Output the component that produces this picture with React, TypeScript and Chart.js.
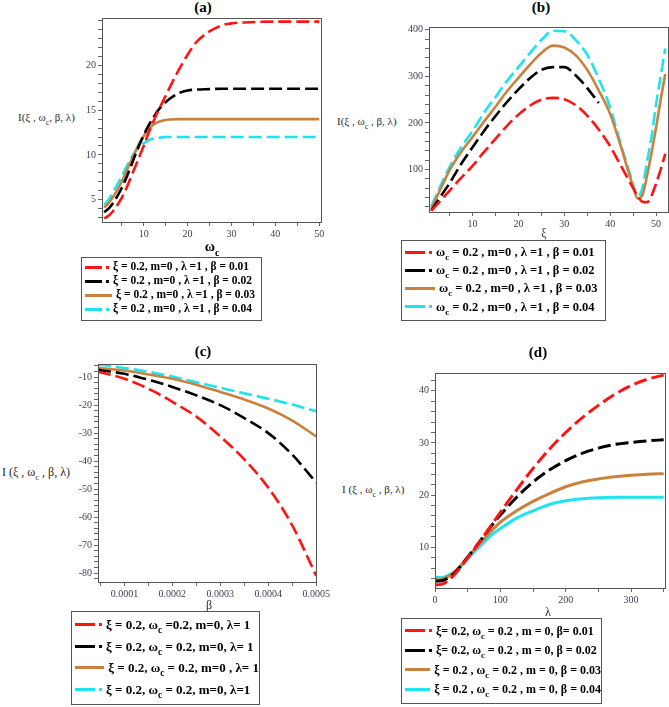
import { useEffect, useRef } from "react";
import Chart from "chart.js/auto";

// ---- panel (a): I against ωc ----
const aX = [1, 2, 3, 4, 5, 6, 7, 8, 9, 10, 11, 12, 13, 14, 15, 16, 18, 20, 22, 25, 28, 30, 35, 40, 45, 50];
const aRed = [2.9, 3.2, 3.7, 4.4, 5.2, 6.2, 7.4, 8.6, 9.8, 11.0, 12.3, 13.5, 14.6, 15.6, 16.6, 17.6, 19.5, 21.2, 22.6, 23.8, 24.5, 24.7, 24.85, 24.9, 24.9, 24.9];
const aBlack = [3.6, 4.0, 4.6, 5.4, 6.3, 7.4, 8.6, 9.9, 11.1, 12.2, 13.2, 14.0, 14.8, 15.4, 15.9, 16.3, 16.9, 17.2, 17.3, 17.35, 17.4, 17.4, 17.4, 17.4, 17.4, 17.4];
const aOrange = [4.1, 4.6, 5.3, 6.1, 7.0, 8.1, 9.2, 10.3, 11.3, 12.1, 12.8, 13.3, 13.6, 13.8, 13.9, 13.95, 14.0, 14.0, 14.0, 14.0, 14.0, 14.0, 14.0, 14.0, 14.0, 14.0];
const aCyan = [4.4, 5.0, 5.8, 6.7, 7.6, 8.6, 9.5, 10.3, 10.9, 11.3, 11.6, 11.8, 11.9, 11.95, 12.0, 12.0, 12.0, 12.0, 12.0, 12.0, 12.0, 12.0, 12.0, 12.0, 12.0, 12.0];
const aXTicks = [10, 20, 30, 40, 50];
const aYTicks = [5, 10, 15, 20];
const aLegend = [
	"ξ = 0.2, m=0 , λ =1 , β = 0.01",
	"ξ = 0.2 , m=0 , λ =1 , β = 0.02",
	"ξ = 0.2 , m=0 , λ =1 , β = 0.03",
	"ξ = 0.2 , m=0 , λ =1 , β = 0.04",
];

// ---- panel (b): I against ξ ----
const bX = [1, 3, 5, 7.5, 10, 12.5, 15, 17.5, 20, 22.5, 25, 27.5, 30, 32.5, 35, 37.5, 40, 42, 44, 45, 46, 47, 48, 49, 50, 51, 52];
const bRed = [12, 33, 55, 82, 108, 138, 166, 194, 218, 237, 250, 254, 251, 238, 216, 186, 150, 114, 78, 60, 43, 31, 30, 44, 70, 100, 134];
const bBlack = [12, 42, 71, 112, 148, 183, 215, 245, 272, 296, 314, 320, 320, 302, 275, 243];
const bOrange = [16, 58, 99, 138, 170, 203, 235, 268, 297, 325, 350, 366, 362, 345, 314, 270, 219, 160, 95, 63, 38, 45, 85, 135, 190, 250, 305];
const bCyan = [21, 65, 106, 148, 183, 222, 256, 290, 320, 350, 378, 398, 397, 378, 346, 295, 233, 165, 100, 68, 41, 60, 115, 170, 240, 300, 360];
const bXTicks = [10, 20, 30, 40, 50];
const bYTicks = [100, 200, 300, 400];
const bLegend = [
	"ωc = 0.2 , m=0 , λ =1 , β = 0.01",
	"ωc = 0.2 , m=0 , λ =1 , β = 0.02",
	"ωc = 0.2 , m=0 , λ =1 , β = 0.03",
	"ωc = 0.2 , m=0 , λ =1 , β = 0.04",
];

// ---- panel (c): I against β ----
const cX = [0.000045, 0.00007, 0.0001, 0.00013, 0.00016, 0.0002, 0.00025, 0.0003, 0.00035, 0.0004, 0.00045, 0.0005];
const cRed = [-8.1, -9.1, -10.6, -12.6, -15.0, -18.8, -24.1, -31.2, -39.4, -49.5, -63, -81];
const cBlack = [-7.4, -8.0, -8.8, -10.0, -11.4, -13.5, -16.5, -20.0, -24.6, -30.0, -37.7, -47.7];
const cOrange = [-6.7, -7.1, -7.6, -8.4, -9.3, -10.6, -12.7, -15.3, -18.0, -21.2, -25.5, -31.2];
const cCyan = [-5.5, -6.0, -6.7, -7.5, -8.4, -9.8, -11.8, -13.8, -15.8, -17.7, -19.8, -22.2];
const cXTicks = [0.0001, 0.0002, 0.0003, 0.0004, 0.0005];
const cYTicks = [-10, -20, -30, -40, -50, -60, -70, -80];
const cLegend = [
	"ξ = 0.2,  ωc =0.2,  m=0, λ= 1",
	"ξ = 0.2, ωc = 0.2,  m=0, λ= 1",
	"ξ = 0.2, ωc = 0.2, m=0 , λ= 1",
	"ξ = 0.2, ωc = 0.2, m=0, λ=1",
];

// ---- panel (d): I against λ ----
const dX = [0, 10, 20, 30, 40, 50, 60, 75, 90, 100, 125, 150, 175, 200, 225, 250, 275, 300, 325, 350];
const dRed = [2.8, 2.9, 3.6, 4.8, 6.3, 8.0, 9.6, 12.2, 14.9, 16.7, 21.0, 25.1, 28.8, 32.0, 34.8, 37.2, 39.3, 41.0, 42.2, 43.0];
const dBlack = [3.5, 3.6, 4.1, 5.1, 6.5, 8.1, 9.7, 12.2, 14.7, 16.2, 19.6, 22.5, 24.8, 26.6, 28.0, 29.0, 29.7, 30.1, 30.4, 30.6];
const dOrange = [3.8, 3.9, 4.4, 5.3, 6.6, 8.1, 9.5, 11.6, 13.6, 14.8, 17.0, 18.8, 20.3, 21.6, 22.5, 23.1, 23.5, 23.8, 24.0, 24.1];
const dCyan = [4.2, 4.2, 4.6, 5.3, 6.4, 7.8, 9.1, 11.0, 12.7, 13.6, 15.6, 17.0, 18.2, 18.9, 19.3, 19.5, 19.6, 19.6, 19.6, 19.6];
const dXTicks = [0, 100, 200, 300];
const dYTicks = [10, 20, 30, 40];
const dLegend = [
	"ξ= 0.2, ωc = 0.2 , m = 0, β= 0.01",
	"ξ= 0.2, ωc = 0.2 , m = 0, β = 0.02",
	"ξ = 0.2 , ωc = 0.2 , m = 0, β = 0.03",
	"ξ = 0.2 , ωc = 0.2 , m = 0, β = 0.04",
];

const COLORS = ["#ff1414", "#000000", "#c8823e", "#1de4ee"];
const DASH = [13, 5];
const SERIF = "'Liberation Serif', 'Times New Roman', serif";

type Area = { left: number; top: number; right: number; bottom: number };
type Axis = { min: number; max: number; minor: number; major: number[]; digits?: number };

const PAD_L = 40;
const PAD_T = 6;
const PAD_R = 14;
const PAD_B = 22;

// draw the box round the plot area, like Maple does
const framePlugin = {
	id: "frame",
	afterDraw(chart: Chart) {
		const { ctx, chartArea: a } = chart;
		ctx.save();
		ctx.strokeStyle = "#555";
		ctx.lineWidth = 1;
		ctx.strokeRect(Math.round(a.left) + 0.5, Math.round(a.top) + 0.5, Math.round(a.right - a.left), Math.round(a.bottom - a.top));
		ctx.restore();
	},
};

const scaleFor = (ax: Axis, isX: boolean) => ({
	type: "linear" as const,
	min: ax.min,
	max: ax.max,
	afterBuildTicks: (scale: any) => {
		const ticks = [];
		const first = Math.ceil(ax.min / ax.minor - 1e-9);
		const last = Math.floor(ax.max / ax.minor + 1e-9);
		for (let k = first; k <= last; k++) ticks.push({ value: +(k * ax.minor).toPrecision(10) });
		scale.ticks = ticks;
	},
	afterFit: (scale: any) => {
		if (isX) scale.height = PAD_B;
		else scale.width = PAD_L;
	},
	grid: { drawOnChartArea: false, drawTicks: true, tickLength: 4, color: "#666" },
	border: { display: true, color: "#555" },
	ticks: {
		autoSkip: false,
		maxRotation: 0,
		padding: 2,
		color: "#3c3c4c",
		font: { family: SERIF, size: 10 },
		callback: (v: any) => {
			const val = Number(v);
			const isMajor = ax.major.some((m) => Math.abs(m - val) < ax.minor * 1e-3);
			if (!isMajor) return "";
			return ax.digits ? val.toFixed(ax.digits) : String(Math.round(val));
		},
	},
});

const Plot = ({ area, xs, series, dashes, width, xAxis, yAxis }: {
	area: Area; xs: number[]; series: number[][]; dashes: number[][]; width: number; xAxis: Axis; yAxis: Axis;
}) => {
	const canvasRef = useRef<HTMLCanvasElement | null>(null);
	const w = area.right - area.left + PAD_L + PAD_R;
	const h = area.bottom - area.top + PAD_T + PAD_B;

	useEffect(() => {
		if (!canvasRef.current) return;
		const chart = new Chart(canvasRef.current, {
			type: "line",
			data: {
				datasets: series.map((ys, i) => ({
					data: ys.map((y, j) => ({ x: xs[j], y })),
					borderColor: COLORS[i],
					borderWidth: width,
					borderDash: dashes[i],
					pointRadius: 0,
					fill: false,
					cubicInterpolationMode: "monotone" as const,
				})),
			},
			options: {
				responsive: false,
				animation: false,
				layout: { padding: { left: 0, top: PAD_T, right: PAD_R, bottom: 0 } },
				plugins: { legend: { display: false }, tooltip: { enabled: false } },
				scales: { x: scaleFor(xAxis, true), y: scaleFor(yAxis, false) },
			},
			plugins: [framePlugin],
		});
		return () => chart.destroy();
	}, []);

	return (
		<canvas
			ref={canvasRef}
			width={w}
			height={h}
			style={{ position: "absolute", left: area.left - PAD_L, top: area.top - PAD_T, width: w, height: h }}
		/>
	);
};

// ω with subscript c
const rich = (s: string) =>
	s.split("ωc").flatMap((part, i) =>
		i === 0
			? [part]
			: [
					<span key={i}>
						ω<span style={{ fontSize: "0.72em", position: "relative", top: "0.45em" }}>c</span>
					</span>,
					part,
				],
	);

const Legend = ({ left, top, width, height, labels, fontSize, lineLen, solid }: {
	left: number; top: number; width: number; height: number; labels: string[]; fontSize: number; lineLen: number; solid: boolean[];
}) => (
	<div
		style={{
			position: "absolute", left, top, width, height, boxSizing: "border-box",
			border: "1px solid #555", display: "flex", flexDirection: "column", justifyContent: "space-around",
			padding: "2px 0 4px 3px", fontFamily: SERIF, fontWeight: "bold", fontSize, color: "#000", whiteSpace: "nowrap",
		}}
	>
		{labels.map((lab, i) => (
			<div key={i} style={{ display: "flex", alignItems: "center", lineHeight: 1 }}>
				<span style={{ display: "inline-block", width: solid[i] ? lineLen + 10 : lineLen, height: 3, background: COLORS[i] }} />
				{solid[i] ? null : (
					<span style={{ display: "inline-block", width: 3, height: 3, marginLeft: 4, background: COLORS[i] }} />
				)}
				<span style={{ marginLeft: 4 }}>{rich(lab)}</span>
			</div>
		))}
	</div>
);

const Text = ({ x, y, children, size, bold, center }: { x: number; y: number; children: any; size: number; bold?: boolean; center?: boolean }) => (
	<div
		style={{
			position: "absolute", left: x, top: y, transform: center ? "translateX(-50%)" : undefined,
			fontFamily: SERIF, fontSize: size, fontWeight: bold ? "bold" : "normal", color: bold ? "#000" : "#2a2a2a",
			whiteSpace: "nowrap", lineHeight: 1,
		}}
	>
		{children}
	</div>
);

const dashed = [DASH, DASH, [], DASH];

export default function App() {
	return (
		<div style={{ position: "absolute", left: 0, top: 0, width: 669, height: 707, background: "#fff", overflow: "hidden" }}>
			{/* (a) */}
			<Text x={203} y={0} size={15} bold center>(a)</Text>
			<Text x={18} y={112} size={11}>{rich("I(ξ , ωc, β, λ)")}</Text>
			<Plot
				area={{ left: 102, top: 16, right: 321, bottom: 222 }}
				xs={aX}
				series={[aRed, aBlack, aOrange, aCyan]}
				dashes={dashed}
				width={2.6}
				xAxis={{ min: 0.5, max: 50.4, minor: 5, major: aXTicks }}
				yAxis={{ min: 2.5, max: 25.3, minor: 1, major: aYTicks }}
			/>
			<Text x={212} y={240} size={14} bold center>{rich("ωc")}</Text>
			<Legend left={81} top={257} width={181} height={64} labels={aLegend} fontSize={11.5} lineLen={17} solid={[false, false, true, false]} />

			{/* (b) */}
			<Text x={541} y={0} size={15} bold center>(b)</Text>
			<Text x={337} y={116} size={11}>{rich("I(ξ , ωc , β, λ)")}</Text>
			<Plot
				area={{ left: 429, top: 25, right: 668, bottom: 212 }}
				xs={bX}
				series={[bRed, bBlack, bOrange, bCyan]}
				dashes={dashed}
				width={2.6}
				xAxis={{ min: 0.5, max: 52.6, minor: 5, major: bXTicks }}
				yAxis={{ min: 9, max: 406, minor: 20, major: bYTicks }}
			/>
			<Text x={544} y={227} size={12} center>ξ</Text>
			<Legend left={401} top={240} width={205} height={81} labels={bLegend} fontSize={12.5} lineLen={20} solid={[false, false, true, false]} />

			{/* (c) */}
			<Text x={203} y={344} size={15} bold center>(c)</Text>
			<Text x={2} y={466} size={12}>{rich("I (ξ , ωc , β, λ)")}</Text>
			<Plot
				area={{ left: 98, top: 362, right: 318, bottom: 582 }}
				xs={cX}
				series={[cRed, cBlack, cOrange, cCyan]}
				dashes={dashed}
				width={2.6}
				xAxis={{ min: 0.000045, max: 0.0005, minor: 0.00005, major: cXTicks, digits: 4 }}
				yAxis={{ min: -83.2, max: -5.3, minor: 2, major: cYTicks }}
			/>
			<Text x={209} y={599} size={12} center>β</Text>
			<Legend left={71} top={611} width={189} height={94} labels={cLegend} fontSize={13} lineLen={20} solid={[false, false, true, false]} />

			{/* (d) */}
			<Text x={538} y={345} size={15} bold center>(d)</Text>
			<Text x={342} y={484} size={11}>{rich("I (ξ , ωc , β, λ)")}</Text>
			<Plot
				area={{ left: 435, top: 371, right: 665, bottom: 588 }}
				xs={dX}
				series={[dRed, dBlack, dOrange, dCyan]}
				dashes={[DASH, DASH, [], []]}
				width={3}
				xAxis={{ min: 0, max: 352, minor: 50, major: dXTicks }}
				yAxis={{ min: 2.2, max: 43.4, minor: 2, major: dYTicks }}
			/>
			<Text x={548} y={606} size={12} center>λ</Text>
			<Legend left={401} top={618} width={201} height={86} labels={dLegend} fontSize={12} lineLen={20} solid={[false, false, true, true]} />
		</div>
	);
}
